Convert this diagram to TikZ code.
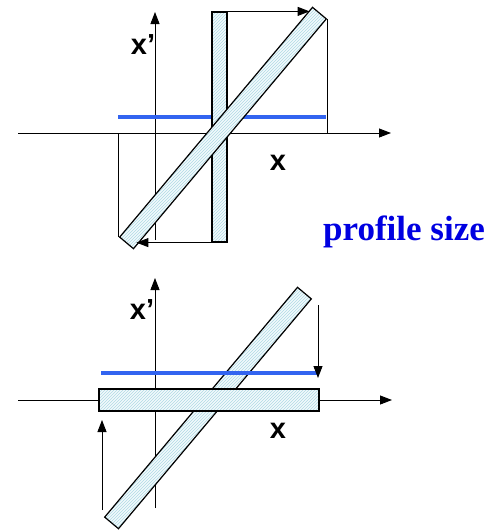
\documentclass[tikz,border=0pt]{standalone}
\usepackage{fontspec}
\usetikzlibrary{arrows.meta,patterns,positioning}
\newfontfamily\labelfont{Liberation Sans}
\newfontfamily\captionfont{Liberation Serif}
\definecolor{barfill}{RGB}{242,250,252}
\definecolor{barhatch}{RGB}{175,218,228}
\definecolor{cutblue}{RGB}{50,100,240}
\definecolor{textblue}{RGB}{0,0,225}
\begin{document}
\begin{tikzpicture}[
    x=1pt, y=-1pt,
    axis/.style={draw, line width=0.9pt, -{Triangle[length=12pt,width=9pt]}},
    thinline/.style={draw, line width=0.9pt},
    arrow/.style={thinline, -{Triangle[length=12pt,width=9pt]}},
    bar/.style={rectangle, draw, line width=1.2pt, inner sep=0pt,
        preaction={fill=barfill}, pattern=north east lines, pattern color=barhatch},
    cut/.style={draw=cutblue, line width=4pt},
    axlabel/.style={font=\labelfont\bfseries\fontsize{29}{31}\selectfont, inner sep=0pt}
]
\useasboundingbox (0,0) rectangle (492,531);

% Top panel: axes
\coordinate (xa1) at (18,133);
\coordinate (xa2) at (391,133);
\coordinate (ya1) at (155,240);
\coordinate (ya2) at (155,12);
\draw [axis] (xa1) -- (xa2);
\draw [axis] (ya1) -- (ya2);
\node [axlabel] (xlabA) at (143,45) {x’};
\node [axlabel] (xlabB) at (278,163) {x};

% Top panel: profile and bars
\coordinate (cutA1) at (118,117);
\coordinate (cutA2) at (326,117);
\draw [cut] (cutA1) -- (cutA2);
\node [bar, minimum width=15pt, minimum height=230pt] (vrect) at (219.5,127) {};
\node [bar, minimum width=300pt, minimum height=18pt, rotate=50] (tiltA) at (223,128) {};

% Top panel: projections
\draw [arrow] (vrect.north east) -- ++(82,0);
\draw [arrow] (vrect.south west) -- ++(-75,0);
\draw [thinline] (tiltA.south east) -- (tiltA.south east |- xa1);
\draw [thinline] (tiltA.north west) -- (tiltA.north west |- xa1);

% Caption
\node [font=\captionfont\bfseries\fontsize{35}{38}\selectfont, text=textblue, inner sep=0pt] (caption) at (404,232) {profile size};

% Bottom panel: axes
\coordinate (xb1) at (18,400);
\coordinate (xb2) at (392,400);
\coordinate (yb1) at (155,508);
\coordinate (yb2) at (155,278);
\draw [axis] (xb1) -- (xb2);
\draw [axis] (yb1) -- (yb2);
\node [axlabel] (xlabC) at (142,310) {x’};
\node [axlabel] (xlabD) at (278,431) {x};

% Bottom panel: bars and profile
\node [bar, minimum width=300pt, minimum height=18pt, rotate=50] (tiltB) at (208,408) {};
\coordinate (cutB1) at (101,373);
\coordinate (cutB2) at (317,373);
\draw [cut] (cutB1) -- (cutB2);
\node [bar, minimum width=220pt, minimum height=22pt] (hrect) at (209,400) {};

% Bottom panel: projections
\coordinate (downA) at (318,305);
\coordinate (downB) at (318,378);
\coordinate (upA) at (102,510);
\coordinate (upB) at (102,420);
\draw [arrow] (downA) -- (downB);
\draw [arrow] (upA) -- (upB);
\end{tikzpicture}
\end{document}
